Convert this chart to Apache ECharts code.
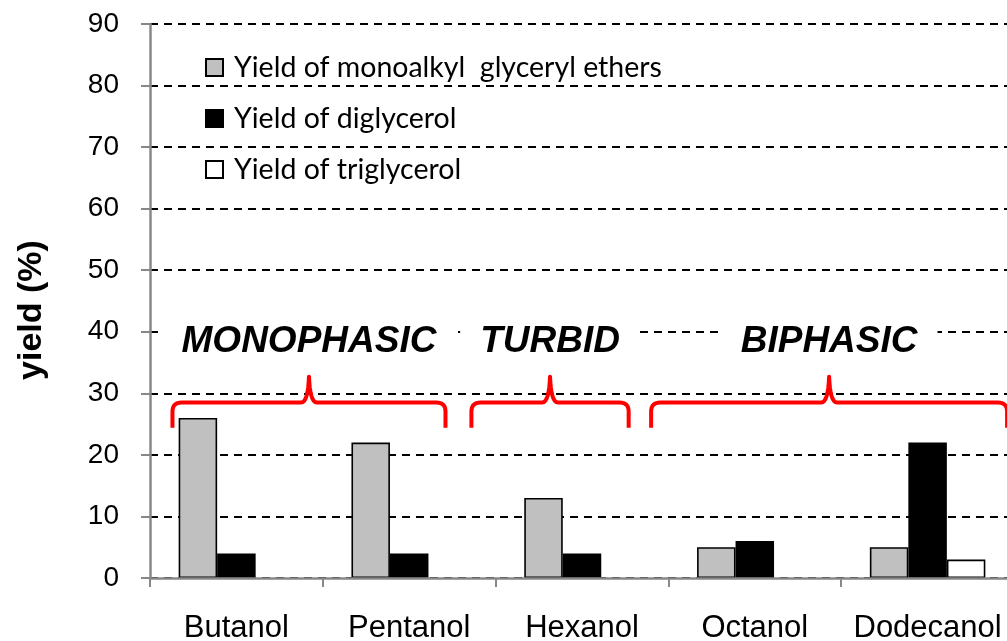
<!DOCTYPE html>
<html>
<head>
<meta charset="utf-8">
<title>Yield by alcohol</title>
<script src="https://cdn.jsdelivr.net/npm/echarts@6/dist/echarts.min.js"></script>
<style>
  html, body { margin: 0; padding: 0; background: #fff; }
  #chart { width: 1007px; height: 641px; }
</style>
</head>
<body>
<div id="chart"></div>
<script>
// Alcohols tested
const categories = ['Butanol', 'Pentanol', 'Hexanol', 'Octanol', 'Dodecanol'];

// Yields in %
const monoalkylEthers = [26, 22, 13, 5, 5];
const diglycerol = [4, 4, 4, 6, 22];
const triglycerol = [0, 0, 0, 0, 3];

// Series names
const seriesNames = [
  'Yield of monoalkyl  glyceryl ethers',
  'Yield of diglycerol',
  'Yield of triglycerol'
];

// Value axis range
const yMin = 0;
const yMax = 90;
const yStep = 10;

// Phase groups: label and span along the category axis (in category index units)
const phaseLabels = ['MONOPHASIC', 'TURBID', 'BIPHASIC'];
const phaseFrom = [-0.37, 1.36, 2.40];
const phaseTo = [1.21, 2.27, 4.46];
// Brace levels on the value axis: feet, bar, tip, and label
const braceFoot = 24.4;
const braceBar = 28.5;
const braceTip = 32.7;
const phaseLabelLevel = 38.3;

const AXIS_GREY = '#888888';
const FONT = '"Liberation Sans", Arial, sans-serif';

const chart = echarts.init(document.getElementById('chart'), null, { renderer: 'canvas' });

// zero yields are not drawn
const asBars = arr => arr.map(v => (v === 0 ? '-' : v));

const option = {
  animation: false,
  backgroundColor: '#ffffff',
  grid: { left: 150, top: 24, right: -7, bottom: 63, containLabel: false, outerBoundsMode: 'none' },
  legend: {
    orient: 'vertical',
    left: 200,
    top: 48,
    icon: 'rect',
    itemWidth: 17,
    itemHeight: 17,
    itemGap: 22,
    selectedMode: false,
    textStyle: {
      fontFamily: 'Lato, "Open Sans", sans-serif',
      fontSize: 28.5,
      lineHeight: 28,
      color: '#000',
      padding: [0, 0, 0, 6]
    },
    data: seriesNames
  },
  xAxis: {
    type: 'category',
    data: categories,
    z: 3,
    axisLine: { lineStyle: { color: AXIS_GREY, width: 2.5 } },
    axisTick: { show: true, length: 9, lineStyle: { color: AXIS_GREY, width: 2 } },
    axisLabel: { interval: 0, fontFamily: FONT, fontSize: 31, color: '#000', margin: 35 },
    splitLine: { show: false }
  },
  yAxis: {
    type: 'value',
    min: yMin,
    max: yMax,
    interval: yStep,
    axisLine: { show: true, lineStyle: { color: AXIS_GREY, width: 2.5 } },
    axisTick: { show: true, length: 9, lineStyle: { color: AXIS_GREY, width: 2 } },
    axisLabel: { fontFamily: FONT, fontSize: 28, color: '#000', margin: 31 },
    splitLine: { show: true, lineStyle: { color: '#000', width: 2, type: [8, 6] } }
  },
  series: [
    {
      name: seriesNames[0],
      type: 'bar',
      data: asBars(monoalkylEthers),
      barWidth: 38.5,
      barGap: '0%',
      itemStyle: { color: '#c0c0c0', borderColor: '#000', borderWidth: 1.6 }
    },
    {
      name: seriesNames[1],
      type: 'bar',
      data: asBars(diglycerol),
      barWidth: 38.5,
      barGap: '0%',
      itemStyle: { color: '#000', borderColor: '#000', borderWidth: 1.6 }
    },
    {
      name: seriesNames[2],
      type: 'bar',
      data: asBars(triglycerol),
      barWidth: 38.5,
      barGap: '0%',
      itemStyle: { color: '#fff', borderColor: '#000', borderWidth: 1.6 }
    }
  ]
};

chart.setOption(option);

// Phase braces and labels placed through the chart's own axes
const xAt = f => {
  const x0 = chart.convertToPixel({ xAxisIndex: 0 }, categories[0]);
  const x1 = chart.convertToPixel({ xAxisIndex: 0 }, categories[1]);
  return x0 + f * (x1 - x0);
};
const yAt = v => chart.convertToPixel({ yAxisIndex: 0 }, v);

// quadratic curve from p0 to p2 with control p1, appended as points
function quad(points, p0, p1, p2, steps) {
  for (let k = 1; k <= steps; k++) {
    const t = k / steps, u = 1 - t;
    points.push([
      u * u * p0[0] + 2 * u * t * p1[0] + t * t * p2[0],
      u * u * p0[1] + 2 * u * t * p1[1] + t * t * p2[1]
    ]);
  }
}

function bracePoints(l, r, yf, yb, yt) {
  const m = (l + r) / 2;
  const c = 9;
  const pts = [[l, yf], [l, yb + c]];
  quad(pts, [l, yb + c], [l, yb], [l + c, yb], 8);
  pts.push([m - 8, yb]);
  quad(pts, [m - 8, yb], [m - 1, yb], [m, yt], 8);
  quad(pts, [m, yt], [m + 1, yb], [m + 8, yb], 8);
  pts.push([r - c, yb]);
  quad(pts, [r - c, yb], [r, yb], [r, yb + c], 8);
  pts.push([r, yf]);
  return pts;
}

const graphics = [];
phaseLabels.forEach((label, i) => {
  const l = xAt(phaseFrom[i]);
  const r = xAt(phaseTo[i]);
  graphics.push({
    type: 'polyline',
    z: 10,
    shape: { points: bracePoints(l, r, yAt(braceFoot), yAt(braceBar), yAt(braceTip)) },
    style: { fill: null, stroke: '#ff0000', lineWidth: 4, lineJoin: 'round' }
  });
  graphics.push({
    type: 'text',
    z: 10,
    x: (l + r) / 2,
    y: yAt(phaseLabelLevel),
    style: {
      text: label,
      fontFamily: FONT,
      fontSize: 37,
      fontWeight: 'bold',
      fontStyle: 'italic',
      fill: '#000',
      align: 'center',
      verticalAlign: 'middle',
      backgroundColor: '#fff',
      padding: [4, 20]
    }
  });
});

// Value axis title
graphics.push({
  type: 'text',
  x: 32,
  y: 310,
  rotation: Math.PI / 2,
  style: {
    text: 'yield (%)',
    fontFamily: FONT,
    fontSize: 34,
    fontWeight: 'bold',
    fill: '#000',
    align: 'center',
    verticalAlign: 'middle'
  }
});

chart.setOption({ graphic: graphics });
</script>
</body>
</html>
